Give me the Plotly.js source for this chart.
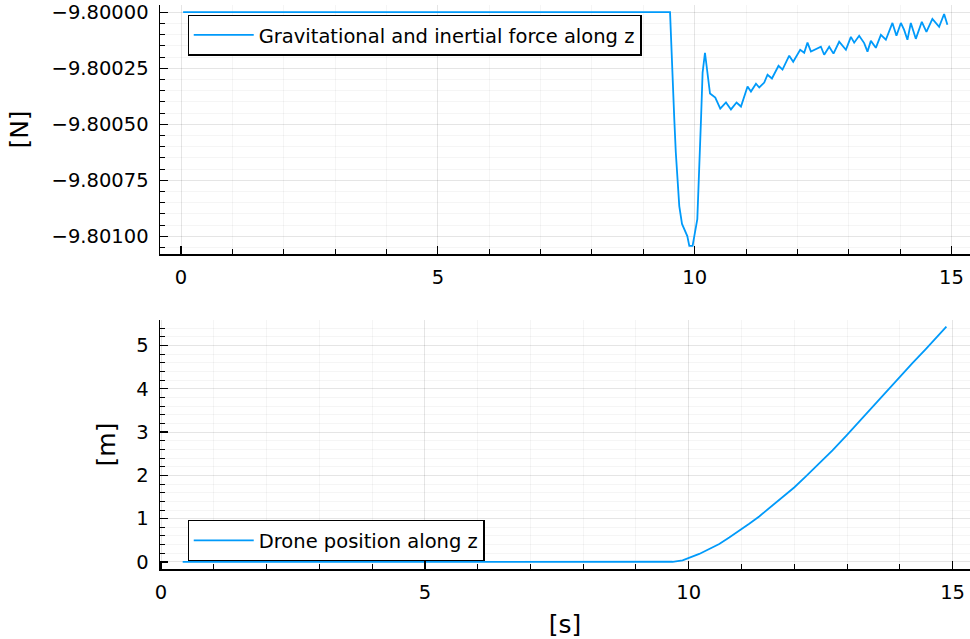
<!DOCTYPE html>
<html>
<head>
<meta charset="utf-8">
<script src="https://cdn.plot.ly/plotly-3.0.1.min.js"></script>
<style>html,body{margin:0;padding:0;background:#fff;}#chart{width:970px;height:639px;}</style>
</head>
<body>
<div id="chart"></div>
<script>
// Top panel: gravitational and inertial force along z [N] vs time [s]
const forceT = [0.04, 9.52, 9.603, 9.632, 9.700, 9.753, 9.856, 9.895, 9.959, 10.051, 10.123, 10.154, 10.200,
  10.298, 10.401, 10.498, 10.609, 10.706, 10.815, 10.901, 11.029, 11.095, 11.193, 11.257, 11.354, 11.418,
  11.504, 11.632, 11.710, 11.840, 11.918, 12.054, 12.132, 12.196, 12.263, 12.457, 12.521, 12.619, 12.702,
  12.813, 12.944, 13.041, 13.105, 13.202, 13.300, 13.364, 13.430, 13.527, 13.625, 13.722, 13.850, 13.928, 14.014,
  14.078, 14.142, 14.208, 14.305, 14.422, 14.512, 14.628, 14.759, 14.856, 14.920];
const forceZ = [-9.8, -9.8, -9.800479, -9.800625, -9.800865, -9.800945, -9.800999, -9.801043, -9.801043, -9.800923,
  -9.800479, -9.800270, -9.800181, -9.800363, -9.800381, -9.800430, -9.800403, -9.800434, -9.800403, -9.800421,
  -9.800332, -9.800354, -9.800319, -9.800336, -9.800314, -9.800279, -9.800296, -9.800239, -9.800256, -9.800194,
  -9.800221, -9.800168, -9.800181, -9.800136, -9.800176, -9.800154, -9.800190, -9.800154, -9.800185, -9.800132,
  -9.800168, -9.800110, -9.800136, -9.800105, -9.800138, -9.800176, -9.800128, -9.800159, -9.800101, -9.800123, -9.800048,
  -9.800105, -9.800048, -9.800079, -9.800123, -9.800048, -9.800119, -9.800043, -9.800088, -9.800030, -9.800065,
  -9.800008, -9.800056];

// Bottom panel: drone position along z [m] vs time [s]
const posT = [0.41, 9.693, 9.883, 10.009, 10.199, 10.388, 10.578, 10.767, 10.989, 11.146, 11.335, 11.525, 11.714,
  11.998, 12.220, 12.472, 12.724, 12.996, 13.229, 13.481, 13.735, 13.987, 14.239, 14.492, 14.682, 14.883];
const posZ = [0, 0.004, 0.038, 0.092, 0.185, 0.300, 0.415, 0.565, 0.745, 0.884, 1.052, 1.237, 1.425,
  1.720, 1.976, 2.269, 2.576, 2.930, 3.245, 3.577, 3.914, 4.253, 4.593, 4.916, 5.169, 5.437];

const forceName = "Gravitational and inertial force along z";
const posName = "Drone position along z";
const xTitle = "[s]";
const forceTitle = "[N]";
const posTitle = "[m]";

const lineColor = "#009AFA";
const font = "DejaVu Sans, sans-serif";

const traces = [
  {x: forceT, y: forceZ, type: "scatter", mode: "lines", name: forceName,
   line: {color: lineColor, width: 1.8}, xaxis: "x", yaxis: "y", legend: "legend", showlegend: true},
  {x: posT, y: posZ, type: "scatter", mode: "lines", name: posName,
   line: {color: lineColor, width: 1.8}, xaxis: "x2", yaxis: "y2", legend: "legend2", showlegend: true}
];

function axisBase() {
  return {
    showline: true, linecolor: "#000", linewidth: 1.5, mirror: false,
    ticks: "inside", ticklen: 8, tickwidth: 1.2, tickcolor: "#000",
    showgrid: true, gridcolor: "rgba(0,0,0,0.1)", gridwidth: 1,
    zeroline: false,
    tickfont: {family: font, size: 19.5, color: "#000"},
    minor: {ticks: "inside", ticklen: 5, tickwidth: 1, tickcolor: "#000", showgrid: true, gridcolor: "rgba(0,0,0,0.05)", gridwidth: 0.8},
    automargin: false
  };
}

const layout = {
  width: 970, height: 639,
  margin: {l: 160, r: 0, t: 5, b: 70},
  paper_bgcolor: "#fff", plot_bgcolor: "#fff",
  font: {family: font, color: "#000"},
  xaxis: Object.assign(axisBase(), {domain: [0, 1], anchor: "y", range: [-0.41, 15.36], dtick: 5, tick0: 0,
    minor: Object.assign(axisBase().minor, {dtick: 1}), ticklabelstandoff: 5}),
  yaxis: Object.assign(axisBase(), {domain: [0.5585, 1], anchor: "x", range: [-9.801079, -9.799968],
    dtick: 0.00025, tick0: -9.8, tickformat: ".5f", minor: Object.assign(axisBase().minor, {dtick: 0.00005}),
    ticklabelstandoff: 6,
    title: {text: forceTitle, font: {family: font, size: 25}, standoff: 16}}),
  xaxis2: Object.assign(axisBase(), {domain: [0, 1], anchor: "y2", range: [-0.02, 15.33], dtick: 5, tick0: 0,
    minor: Object.assign(axisBase().minor, {dtick: 1}), ticklabelstandoff: 5,
    title: {text: xTitle, font: {family: font, size: 25}, standoff: 12}}),
  yaxis2: Object.assign(axisBase(), {domain: [0, 0.4415], anchor: "x2", range: [-0.163, 5.59],
    dtick: 1, tick0: 0, minor: Object.assign(axisBase().minor, {dtick: 0.2}), ticklabelstandoff: 6,
    title: {text: posTitle, font: {family: font, size: 25}, standoff: 13}}),
  legend: {x: 0.034, y: 0.983, xanchor: "left", yanchor: "top", bgcolor: "#fff", bordercolor: "#000", borderwidth: 1.2,
    itemwidth: 60, font: {family: font, size: 19.5, color: "#000"}},
  legend2: {x: 0.034, y: 0.0142, xanchor: "left", yanchor: "bottom", bgcolor: "#fff", bordercolor: "#000", borderwidth: 1.2,
    itemwidth: 60, font: {family: font, size: 19.5, color: "#000"}}
};

Plotly.newPlot("chart", traces, layout, {displayModeBar: false, staticPlot: true});
</script>
</body>
</html>
